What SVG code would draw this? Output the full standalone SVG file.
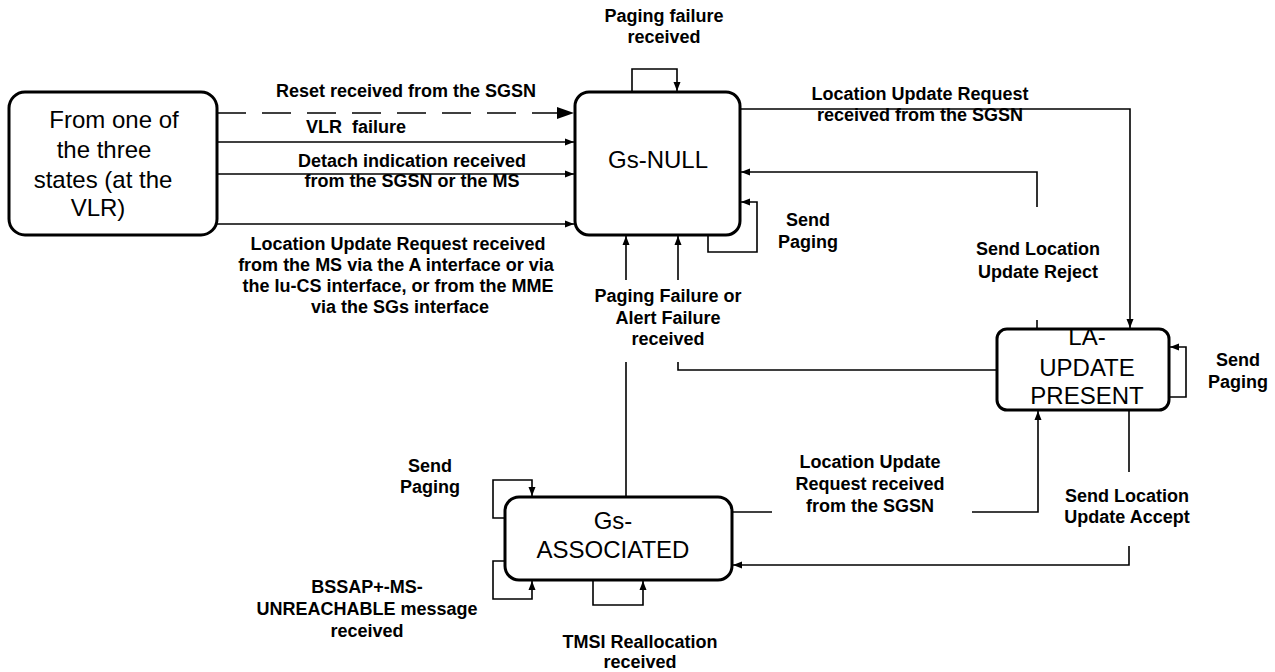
<svg xmlns="http://www.w3.org/2000/svg" width="1275" height="672" viewBox="0 0 1275 672">
<style>
.box{fill:#fff;stroke:#000;stroke-width:3}
.st{font-family:"Liberation Sans",Arial,sans-serif;font-size:24px;fill:#000;text-anchor:middle}
.src{font-family:"Liberation Sans",Arial,sans-serif;font-size:24px;fill:#000;text-anchor:middle}
.lbl{font-family:"Liberation Sans",Arial,sans-serif;font-size:18px;font-weight:bold;fill:#000;text-anchor:middle}
.c{fill:none;stroke:#000;stroke-width:1.6}
.a{marker-end:url(#ah)}
.d{stroke-dasharray:29 16;marker-end:url(#big)}
</style>
<defs>
<marker id="ah" markerUnits="userSpaceOnUse" markerWidth="10" markerHeight="8" refX="9" refY="4" orient="auto">
<path d="M0,0.5 L9,4 L0,7.5 z" fill="#000"/>
</marker>
<marker id="big" markerUnits="userSpaceOnUse" markerWidth="18" markerHeight="12" refX="17" refY="6" orient="auto">
<path d="M0,0 L17,6 L0,12 z" fill="#000"/>
</marker>
</defs>

<g id="connectors">
<path class="c d" d="M217,113 H574"/>
<path class="c a" d="M217,142 H574"/>
<path class="c a" d="M217,174 H574"/>
<path class="c a" d="M217,224 H574"/>
<path class="c a" d="M632,92 V69 H677 V91"/>
<path class="c a" d="M708,235 V252 H757 V202 H741"/>
<path class="c a" d="M740,109 H1130 V328"/>
<path class="c" d="M1037,329 V320"/>
<path class="c a" d="M1037,207 V172 H741"/>
<path class="c" d="M997,370 H678 V362"/>
<path class="c a" d="M678,280 V236"/>
<path class="c" d="M626,497 V362"/>
<path class="c a" d="M626,280 V236"/>
<path class="c a" d="M1169,397 H1186 V347 H1170"/>
<path class="c" d="M732,512 H772"/>
<path class="c a" d="M972,512 H1038 V411"/>
<path class="c" d="M1129,410 V472"/>
<path class="c a" d="M1129,546 V565 H733"/>
<path class="c a" d="M505,518 H493 V480 H532 V496"/>
<path class="c a" d="M505,561 H493 V599 H532 V581"/>
<path class="c a" d="M593,580 V605 H643 V581"/>
<g id="labels">
<text class="lbl" x="406" y="97">Reset received from the SGSN</text>
<text class="lbl" x="356" y="133" style="white-space:pre">VLR  failure</text>
<text class="lbl" x="412" y="167">Detach indication received</text>
<text class="lbl" x="412" y="187">from the SGSN or the MS</text>
<text class="lbl" x="398" y="250">Location Update Request received</text>
<text class="lbl" x="396" y="271">from the MS via the A interface or via</text>
<text class="lbl" x="398" y="292">the Iu-CS interface, or from the MME</text>
<text class="lbl" x="400" y="313">via the SGs interface</text>
<text class="lbl" x="664" y="22">Paging failure</text>
<text class="lbl" x="664" y="43">received</text>
<text class="lbl" x="920" y="100">Location Update Request</text>
<text class="lbl" x="920" y="121">received from the SGSN</text>
<text class="lbl" x="808" y="226">Send</text>
<text class="lbl" x="808" y="248">Paging</text>
<text class="lbl" x="1038" y="255">Send Location</text>
<text class="lbl" x="1038" y="278">Update Reject</text>
<text class="lbl" x="668" y="302">Paging Failure or</text>
<text class="lbl" x="668" y="324">Alert Failure</text>
<text class="lbl" x="668" y="345">received</text>
<text class="lbl" x="1238" y="366">Send</text>
<text class="lbl" x="1238" y="388">Paging</text>
<text class="lbl" x="870" y="468">Location Update</text>
<text class="lbl" x="870" y="490">Request received</text>
<text class="lbl" x="870" y="512">from the SGSN</text>
<text class="lbl" x="1127" y="502">Send Location</text>
<text class="lbl" x="1127" y="523">Update Accept</text>
<text class="lbl" x="430" y="472">Send</text>
<text class="lbl" x="430" y="493">Paging</text>
<text class="lbl" x="367" y="593">BSSAP+-MS-</text>
<text class="lbl" x="367" y="615">UNREACHABLE message</text>
<text class="lbl" x="367" y="637">received</text>
<text class="lbl" x="640" y="648">TMSI Reallocation</text>
<text class="lbl" x="640" y="668">received</text>
</g>
</g>

<g id="node-source">
<rect class="box" x="9" y="92" width="208" height="143" rx="16"/>
<text class="src" x="114" y="128">From one of</text>
<text class="src" x="104" y="158">the three</text>
<text class="src" x="103" y="188">states (at the</text>
<text class="src" x="98" y="216">VLR)</text>
</g>

<g id="node-gs-null">
<rect class="box" x="575" y="92" width="165" height="143" rx="14"/>
<text class="st" x="658" y="168">Gs-NULL</text>
</g>

<g id="node-la-update-present">
<rect class="box" x="997" y="329" width="172" height="81" rx="10"/>
<text class="st" x="1087" y="345">LA-</text>
<text class="st" x="1087" y="376">UPDATE</text>
<text class="st" x="1087" y="404">PRESENT</text>
</g>

<g id="node-gs-associated">
<rect class="box" x="505" y="497" width="227" height="83" rx="14"/>
<text class="st" x="613" y="529">Gs-</text>
<text class="st" x="613" y="558">ASSOCIATED</text>
</g>
</svg>
